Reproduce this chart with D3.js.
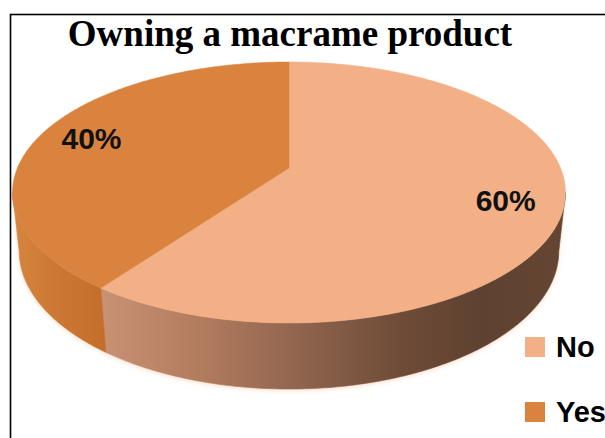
<!DOCTYPE html>
<html>
<head>
<meta charset="utf-8">
<script src="https://cdn.jsdelivr.net/npm/d3@7"></script>
<style>
  html, body { margin: 0; padding: 0; background: #fff; }
  svg { display: block; }
</style>
</head>
<body>
<script>
// Survey answers
const categories = ["No", "Yes"];
const shares = [60, 40];
const chartTitle = "Owning a macrame product";

const topColors = ["#F3AF85", "#D9833F"];

const W = 605, H = 438;
const svg = d3.select("body").append("svg")
  .attr("width", W).attr("height", H);

// Frame around the chart
svg.append("rect")
  .attr("x", 10.5).attr("y", 14.5)
  .attr("width", 620).attr("height", 500)
  .attr("fill", "none").attr("stroke", "#000").attr("stroke-width", 1.6);

// Title
svg.append("text")
  .attr("x", 290).attr("y", 46)
  .attr("text-anchor", "middle")
  .attr("font-family", "'Liberation Serif', 'Times New Roman', serif")
  .attr("font-weight", "bold")
  .attr("font-size", 37)
  .attr("fill", "#000")
  .text(chartTitle);

// 3D perspective projection of a tilted disc (units of disc radius)
const cx = 289, cy = 168;      // projected disc centre
const F = 271.6;               // screen scale
const k = 0.2118;              // radius / camera distance
const sinP = 0.4636, cosP = Math.sqrt(1 - sinP * sinP); // tilt
const depth = 0.245;           // thickness of the pie

function project(t, y, rho = 1) {
  const X = rho * Math.sin(t), Z = -rho * Math.cos(t);
  const s = Z * sinP - y * cosP;
  const d = 1 - k * (Z * cosP + y * sinP);
  return [cx + F * X / d, cy + F * s / d];
}

const pie = d3.pie().sort(null).value(d => d).startAngle(0).endAngle(2 * Math.PI);
const arcs = pie(shares);

const line = d3.line();
function arcPoints(a0, a1, y) {
  const n = Math.max(2, Math.ceil(Math.abs(a1 - a0) / 0.01));
  return d3.range(n + 1).map(i => project(a0 + (a1 - a0) * i / n, y));
}

// Side wall shading
const defs = svg.append("defs");
const sideGrad = [
  { id: "side-no", x1: 100, x2: 566, stops: [
    [0, "#C99275"], [0.21, "#B37C5F"], [0.43, "#90644E"],
    [0.64, "#6F4C38"], [0.82, "#5E4130"], [1, "#654633"] ] },
  { id: "side-yes", x1: 12, x2: 104, stops: [
    [0, "#D6853F"], [0.5, "#CC7733"], [1, "#C46E2B"] ] }
];
sideGrad.forEach(g => {
  const lg = defs.append("linearGradient")
    .attr("id", g.id).attr("gradientUnits", "userSpaceOnUse")
    .attr("x1", g.x1).attr("x2", g.x2).attr("y1", 0).attr("y2", 0);
  g.stops.forEach(([o, c]) => lg.append("stop").attr("offset", o).attr("stop-color", c));
});

// Soft halo under the pie body
defs.append("filter").attr("id", "halo")
  .attr("x", "-10%").attr("y", "-10%").attr("width", "120%").attr("height", "130%")
  .append("feGaussianBlur").attr("stdDeviation", 2.5);

// Only the front part of the outer wall faces the viewer
const visLo = Math.acos(-k * cosP);
const visHi = 2 * Math.PI - visLo;

const haloPts = arcPoints(visLo, visHi, 0).concat(arcPoints(visLo, visHi, -depth).reverse());
svg.append("path")
  .attr("d", line(haloPts) + "Z")
  .attr("fill", "#F6C49E")
  .attr("opacity", 0.55)
  .attr("transform", "translate(0,1.5)")
  .attr("filter", "url(#halo)");

const sides = svg.append("g");
arcs.forEach((a, i) => {
  const a0 = Math.max(a.startAngle, visLo);
  const a1 = Math.min(a.endAngle, visHi);
  if (a1 <= a0) return;
  const pts = arcPoints(a0, a1, 0).concat(arcPoints(a0, a1, -depth).reverse());
  sides.append("path")
    .attr("d", line(pts) + "Z")
    .attr("fill", `url(#${sideGrad[i].id})`)
    .attr("stroke", `url(#${sideGrad[i].id})`)
    .attr("stroke-width", 0.6);
});

// Top faces
const tops = svg.append("g");
arcs.forEach((a, i) => {
  const pts = [project(0, 0, 0)].concat(arcPoints(a.startAngle, a.endAngle, 0));
  tops.append("path")
    .attr("d", line(pts) + "Z")
    .attr("fill", topColors[i])
    .attr("stroke", topColors[i])
    .attr("stroke-width", 0.5);
});

// Percentage labels
const fmt = d3.format(".0%");
const total = d3.sum(shares);
arcs.forEach((a, i) => {
  const mid = (a.startAngle + a.endAngle) / 2;
  const [lx, ly] = project(mid, 0, 0.8);
  svg.append("text")
    .attr("x", lx).attr("y", ly + 10.5)
    .attr("text-anchor", "middle")
    .attr("font-family", "'Liberation Sans', Arial, sans-serif")
    .attr("font-weight", "bold")
    .attr("font-size", 30)
    .attr("fill", "#111")
    .text(fmt(a.data / total));
});

// Legend
const legend = svg.append("g");
categories.forEach((c, i) => {
  const y = 337 + i * 65;
  legend.append("rect")
    .attr("x", 525).attr("y", y).attr("width", 20).attr("height", 20)
    .attr("fill", topColors[i]);
  legend.append("text")
    .attr("x", 556).attr("y", y + 20)
    .attr("font-family", "'Liberation Sans', Arial, sans-serif")
    .attr("font-weight", "bold")
    .attr("font-size", 29)
    .attr("fill", "#000")
    .text(c);
});
</script>
</body>
</html>
